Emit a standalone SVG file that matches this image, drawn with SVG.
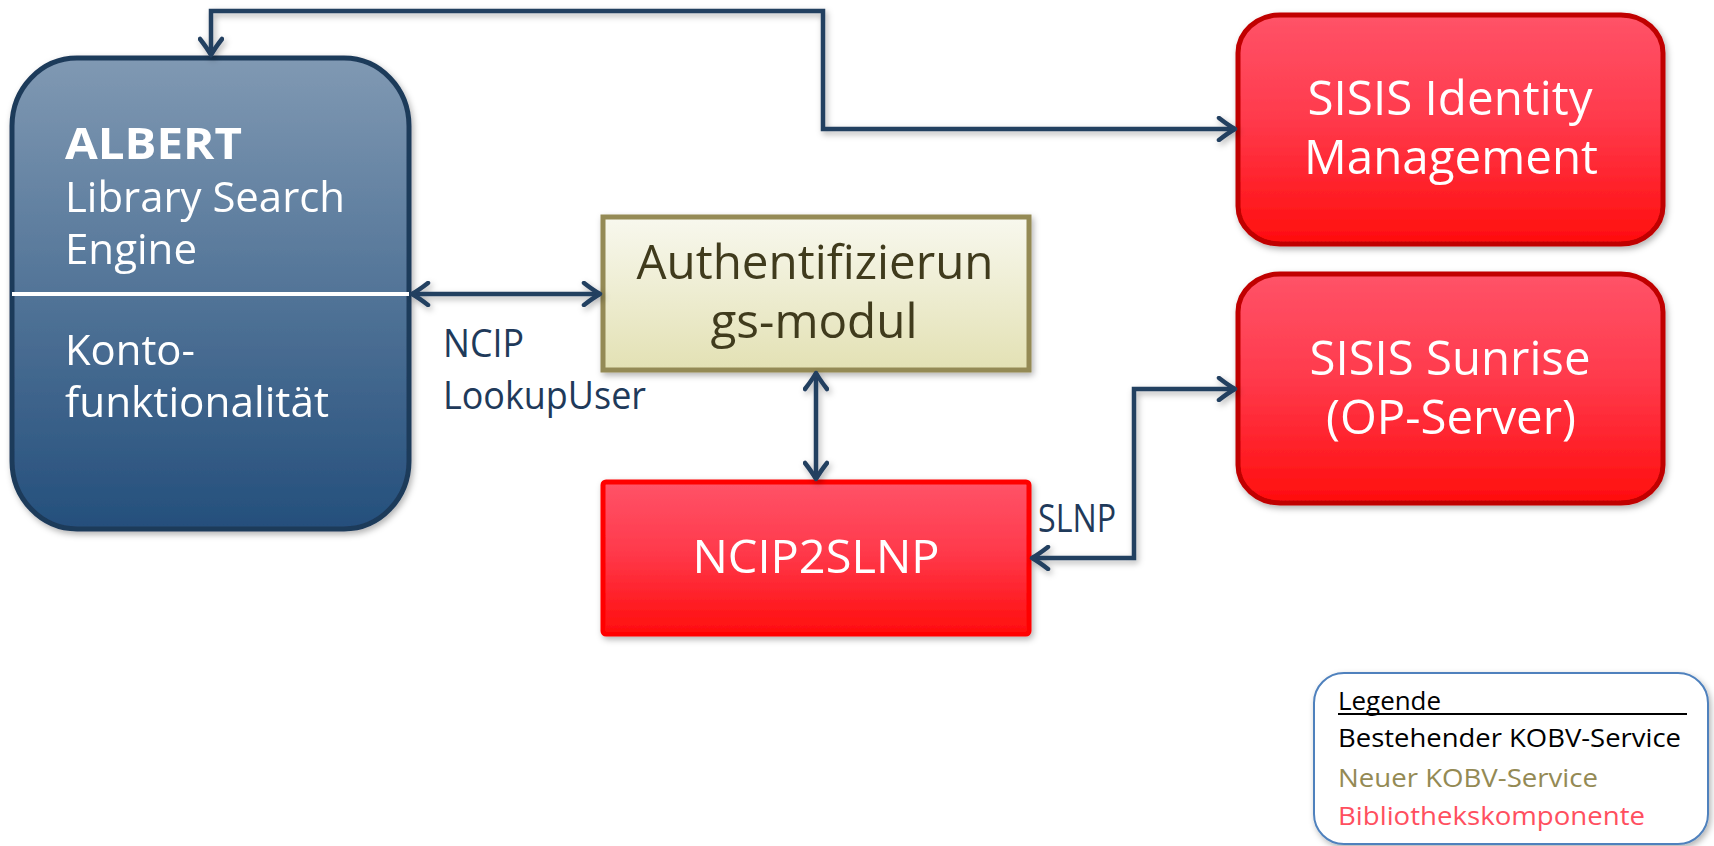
<svg xmlns="http://www.w3.org/2000/svg" width="1714" height="846" viewBox="0 0 1714 846">
<style>
.t{font-family:"Open Sans","Noto Sans","DejaVu Sans",sans-serif}
.w{fill:#ffffff}
.lbl{fill:#1f3a5a;font-size:38px}
.con{fill:none;stroke:#243f60;stroke-width:4.5;stroke-linejoin:miter;marker-start:url(#arr);marker-end:url(#arr)}
.leg{font-family:"Open Sans","Noto Sans",sans-serif;font-size:26px}
</style>
<defs>
<linearGradient id="gBlue" x1="0" y1="0" x2="0" y2="1">
<stop offset="0" stop-color="#8099b3"/><stop offset="1" stop-color="#244f7c"/>
</linearGradient>
<linearGradient id="gRed" x1="0" y1="0" x2="0" y2="1">
<stop offset="0" stop-color="#ff5368"/><stop offset="0.45" stop-color="#ff3a4c"/><stop offset="1" stop-color="#ff0d0d"/>
</linearGradient>
<linearGradient id="gCream" x1="0" y1="0" x2="0" y2="1">
<stop offset="0" stop-color="#f8f8ee"/><stop offset="1" stop-color="#e3e1b4"/>
</linearGradient>
<filter id="sh" x="-10%" y="-10%" width="125%" height="125%">
<feDropShadow dx="2" dy="3" stdDeviation="3" flood-color="#000" flood-opacity="0.3"/>
</filter>
<marker id="arr" viewBox="0 0 22 26" refX="19" refY="13" markerWidth="22" markerHeight="26" markerUnits="userSpaceOnUse" orient="auto-start-reverse">
<path d="M3,2 Q12,9 19,13 Q12,17 3,24" fill="none" stroke="#243f60" stroke-width="4.5" stroke-linecap="round" stroke-linejoin="round"/>
</marker>
</defs>
<rect width="1714" height="846" fill="#ffffff"/>

<g id="albert" filter="url(#sh)">
<rect x="12" y="58" width="397" height="471" rx="65" ry="68" fill="url(#gBlue)" stroke="#1f3a5a" stroke-width="5"/>
<line x1="12" y1="294" x2="409" y2="294" stroke="#ffffff" stroke-width="4"/>
<text class="t w" x="65" y="159" font-size="43" font-weight="bold" textLength="177" lengthAdjust="spacingAndGlyphs">ALBERT</text>
<text class="t w" x="65" y="212" font-size="42" textLength="280" lengthAdjust="spacingAndGlyphs">Library Search</text>
<text class="t w" x="65" y="264" font-size="42" textLength="132" lengthAdjust="spacingAndGlyphs">Engine</text>
<text class="t w" x="65" y="365" font-size="42" textLength="130" lengthAdjust="spacingAndGlyphs">Konto-</text>
<text class="t w" x="65" y="417" font-size="42" textLength="264" lengthAdjust="spacingAndGlyphs">funktionalität</text>
</g>

<g id="auth" filter="url(#sh)">
<rect x="603" y="217" width="426" height="153" fill="url(#gCream)" stroke="#948a54" stroke-width="5"/>
<text class="t" x="815" y="279" font-size="48" fill="#3f3a1f" text-anchor="middle" textLength="357" lengthAdjust="spacingAndGlyphs">Authentifizierun</text>
<text class="t" x="814" y="338" font-size="48" fill="#3f3a1f" text-anchor="middle" textLength="207" lengthAdjust="spacingAndGlyphs">gs-modul</text>
</g>

<g id="ncip2slnp" filter="url(#sh)">
<rect x="603" y="482" width="426" height="152" rx="3" fill="url(#gRed)" stroke="#ff0000" stroke-width="5"/>
<text class="t w" x="816" y="573" font-size="46" text-anchor="middle" textLength="247" lengthAdjust="spacingAndGlyphs">NCIP2SLNP</text>
</g>

<g id="sisis-idm" filter="url(#sh)">
<rect x="1238" y="15" width="425" height="229" rx="42" ry="38" fill="url(#gRed)" stroke="#c00000" stroke-width="5"/>
<text class="t w" x="1450" y="115" font-size="48" text-anchor="middle" textLength="285" lengthAdjust="spacingAndGlyphs">SISIS Identity</text>
<text class="t w" x="1451" y="174" font-size="48" text-anchor="middle" textLength="294" lengthAdjust="spacingAndGlyphs">Management</text>
</g>

<g id="sisis-sunrise" filter="url(#sh)">
<rect x="1238" y="274" width="425" height="229" rx="42" ry="38" fill="url(#gRed)" stroke="#c00000" stroke-width="5"/>
<text class="t w" x="1450" y="375" font-size="48" text-anchor="middle" textLength="281" lengthAdjust="spacingAndGlyphs">SISIS Sunrise</text>
<text class="t w" x="1451" y="434" font-size="48" text-anchor="middle" textLength="250" lengthAdjust="spacingAndGlyphs">(OP-Server)</text>
</g>

<g id="connectors" filter="url(#sh)">
<path class="con" d="M211,55 V11 H823 V129 H1235"/>
<path class="con" d="M412,294 H600"/>
<path class="con" d="M816,373 V479"/>
<path class="con" d="M1032,558 H1134 V389 H1235"/>
</g>

<g id="labels">
<text class="t lbl" x="443" y="357" textLength="81" lengthAdjust="spacingAndGlyphs">NCIP</text>
<text class="t lbl" x="443" y="409" textLength="203" lengthAdjust="spacingAndGlyphs">LookupUser</text>
<text class="t lbl" x="1038" y="532" textLength="78" lengthAdjust="spacingAndGlyphs">SLNP</text>
</g>

<g id="legend">
<rect x="1314" y="673" width="394" height="171" rx="30" fill="#ffffff" stroke="#4f81bd" stroke-width="2" filter="url(#sh)"/>
<text class="leg" x="1338" y="710" fill="#000000" textLength="103" lengthAdjust="spacingAndGlyphs">Legende</text>
<line x1="1338" y1="714" x2="1687" y2="714" stroke="#000000" stroke-width="2"/>
<text class="leg" x="1338" y="747" fill="#000000" textLength="343" lengthAdjust="spacingAndGlyphs">Bestehender KOBV-Service</text>
<text class="leg" x="1338" y="787" fill="#948a54" textLength="260" lengthAdjust="spacingAndGlyphs">Neuer KOBV-Service</text>
<text class="leg" x="1338" y="825" fill="#ff4f5f" textLength="307" lengthAdjust="spacingAndGlyphs">Bibliothekskomponente</text>
</g>
</svg>
